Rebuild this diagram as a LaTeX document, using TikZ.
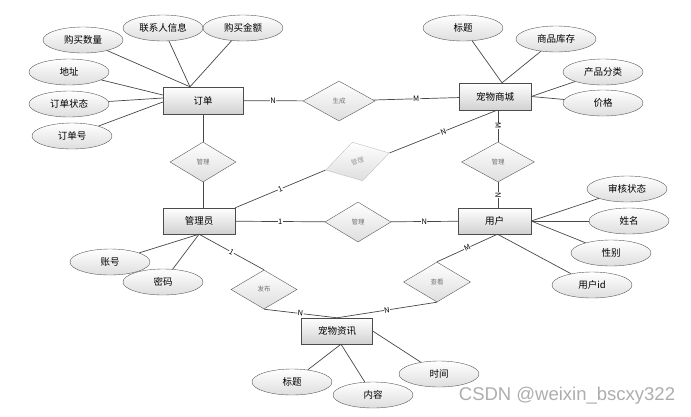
\documentclass[tikz,border=0pt]{standalone}
\usepackage{fontspec}
\setmainfont{Noto Sans CJK SC}
\newfontfamily\wmfont{Liberation Sans}
\usetikzlibrary{shapes.geometric}

\tikzset{
  attr/.style={ellipse,draw=black!65,top color=white,bottom color=black!13,
    minimum width=80pt,minimum height=26pt,inner sep=0pt,font=\fontsize{9.5}{10}\selectfont},
  ent/.style={rectangle,draw=black!70,top color=white,bottom color=black!18,
    minimum width=72pt,minimum height=27pt,inner sep=0pt,font=\fontsize{9.5}{10}\selectfont},
  rel/.style={diamond,draw=black!65,top color=white,bottom color=black!13,
    minimum width=66pt,minimum height=40pt,inner sep=0pt,text=black!55,font=\fontsize{6.5}{7}\selectfont},
  card/.style={font=\fontsize{7.5}{8}\selectfont,fill=white,inner sep=0.4pt},
  link/.style={draw=black!72,line width=0.7pt}
}

\begin{document}
\begin{tikzpicture}[x=1pt,y=-1pt]
  \useasboundingbox (0,0) rectangle (691,416);
  % entities
  \node[ent,minimum width=80pt] (order) at (203,100.5) {订单};
  \node[ent] (shop) at (495,96.5) {宠物商城};
  \node[ent,minimum height=26pt] (admin) at (199,221) {管理员};
  \node[ent,minimum width=73pt,minimum height=26pt] (user) at (494.5,221) {用户};
  \node[ent,minimum width=71pt,minimum height=26pt] (news) at (337,331) {宠物资讯};
  % relations
  \node[rel,minimum width=72pt] (gen) at (339,101) {生成};
  \node[rel] (mgo) at (203,162) {管理};
  \node[rel,rotate=15,draw=black!25,text=black!40] (mgs) at (357.5,161.5) {管理};
  \node[rel] (mgu) at (358,222) {管理};
  \node[rel,minimum width=73pt] (mgp) at (498,162) {管理};
  \node[rel,minimum height=39pt] (pub) at (264,289.5) {发布};
  \node[rel,minimum width=67pt] (view) at (437,282) {查看};
  % attributes
  \foreach \n/\x/\y/\t in {buyqty/83/40/购买数量, contact/163/28/联系人信息, amount/243/28/购买金额,
      addr/69/72/地址, ostate/69/104/订单状态, ono/72/136/订单号,
      stitle/463/28/标题, stock/556/39/商品库存, cat/603/72/产品分类, price/603/103/价格,
      audit/627/189/审核状态, uname/629/221/姓名, gender/611/253/性别, uid/592/285/用户id,
      acct/110/262/账号, pwd/163/282/密码,
      ntitle/292/382/标题, content/373/395/内容, ntime/439/374/时间}
    \node[attr] (\n) at (\x,\y) {\t};
  % attachment points
  \coordinate (ordtop) at ([xshift=-13pt]order.north);
  \coordinate (ordl1) at ([yshift=5.5pt]order.west);
  \coordinate (ordl2) at ([yshift=2.5pt]order.west);
  \coordinate (ordl3) at ([yshift=-1.5pt]order.west);
  \coordinate (shoptop) at ([xshift=7pt]shop.north);
  \coordinate (shopbot) at ([xshift=2pt]shop.south);
  \coordinate (usrbot) at ([xshift=3pt]user.south);
  \coordinate (newsbot) at ([xshift=4pt]news.south);
  \foreach \a/\b in {buyqty/ordtop, contact/ordtop, amount/ordtop, addr/ordl1, ostate/ordl2, ono/ordl3,
      stitle/shoptop, stock/shoptop, cat/shop.east, price/shop.east,
      audit/user.east, uname/user.east, gender/user.east, uid/usrbot,
      acct/admin.south, pwd/admin.south, ntitle/newsbot, content/newsbot, ntime/news.east}
    \draw[link] (\a) -- (\b);
  % relationship lines
  \draw[link] (order) -- node[card] {N} (gen);
  \draw[link] (gen) -- node[card] {M} (shop);
  \draw[link] (order) -- (mgo);
  \draw[link] (mgo.south) -- (mgo.south |- admin.north);
  \draw[link] (admin.north east) -- node[card,sloped] {1} (mgs.west);
  \draw[link] (mgs.east) -- node[card,sloped] {N} (shopbot);
  \draw[link] (admin) -- node[card] {1} (mgu);
  \draw[link] (mgu) -- node[card] {N} (user);
  \draw[link] (shop.south -| mgp.north) -- node[card,rotate=-90] {M} (mgp.north);
  \draw[link] (mgp.south) -- node[card,rotate=-90] {N} (mgp.south |- user.north);
  \draw[link] (admin.south) -- node[card,sloped] {1} (pub.north);
  \draw[link] (pub.south) -- node[card,sloped] {N} (news.north);
  \draw[link] (usrbot) -- node[card,sloped] {M} (view.north);
  \draw[link] (view.south) -- node[card,sloped] {N} (news.north);
  % watermark
  \node[text=black!32,font=\wmfont\fontsize{18.5}{19}\selectfont] (mark) at (567,396) {CSDN @weixin\_bscxy322};
\end{tikzpicture}
\end{document}
